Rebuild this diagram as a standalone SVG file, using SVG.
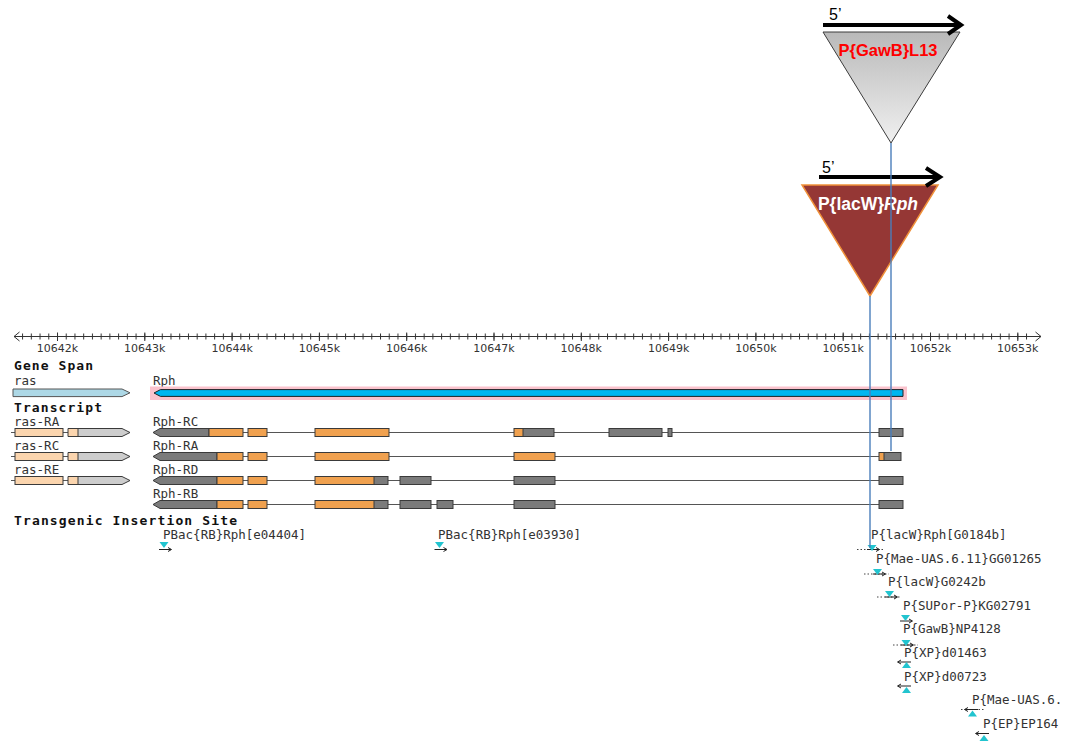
<svg xmlns="http://www.w3.org/2000/svg" width="1069" height="745" viewBox="0 0 1069 745">
<style>
.mono{font-family:"DejaVu Sans Mono","Liberation Mono",monospace;font-size:12.5px;fill:#333}
.head{font-family:"DejaVu Sans Mono","Liberation Mono",monospace;font-size:13px;font-weight:bold;fill:#111}
.ax{font-family:"DejaVu Sans","Liberation Sans",sans-serif;font-size:11px;fill:#333;text-anchor:middle}
.ex{stroke:#3a3a3a;stroke-width:1}
.o{fill:#f0a14f}
.g{fill:#7b7b7b}
.pe{fill:#fbd5ae}
.lg{fill:#cdcdcd}
.intr{stroke:#555;stroke-width:1.2}
.tk{stroke:#333;stroke-width:1}
.cy{fill:#22c4cf}
.ar{stroke:#222;stroke-width:1;fill:none}
.dot{stroke:#444;stroke-width:1;stroke-dasharray:1.5 2;fill:none}
.conn{stroke:#4a7ebb;stroke-width:1.4;fill:none}
.big{stroke:#000;stroke-width:4;fill:none;stroke-linecap:butt}
.five{font-family:"Liberation Sans",Arial,sans-serif;font-size:16px;fill:#000}
</style>
<defs>
<linearGradient id="gray" x1="0" y1="0" x2="0" y2="1">
<stop offset="0" stop-color="#b9b9b9"/>
<stop offset="1" stop-color="#f0f0f0"/>
</linearGradient>
<pattern id="minor" x="57" y="333.5" width="8.73" height="6" patternUnits="userSpaceOnUse">
<rect x="0" y="0" width="1" height="6" fill="#333"/>
</pattern>
<g id="mDown">
<polygon class="cy" points="-4.5,0 4.5,0 0,6"/>
</g>
<g id="aRight">
<path class="ar" d="M-6,7.5 H6 M3,5.5 L6.5,7.5 L3,9.5"/>
</g>
<g id="mUp">
<polygon class="cy" points="-4.5,7 4.5,7 0,1"/>
</g>
<g id="aLeft">
<path class="ar" d="M6,0 H-7 M-4,-2 L-7.5,0 L-4,2"/>
</g>
</defs>
<rect width="1069" height="745" fill="#fff"/>

<g id="gawb">
<polygon points="823,32 960,32 891,143" fill="url(#gray)" stroke="#3c3c3c" stroke-width="1"/>
<path class="big" d="M823,25 H960 M948,16 L961,25 L948,34"/>
<text class="five" x="829" y="20">5’</text>
<text x="888" y="56" text-anchor="middle" font-family="Liberation Sans,Arial,sans-serif" font-weight="bold" font-size="16.5" fill="#ff0000">P{GawB}L13</text>
</g>

<g id="lacw">
<polygon points="802,185 938,185 870,296" fill="#953735" stroke="#f0913a" stroke-width="1.5"/>
<path class="big" d="M819,177 H939 M926,168 L940,177 L926,186"/>
<text class="five" x="822" y="173">5’</text>
<text x="868" y="210" text-anchor="middle" font-family="Liberation Sans,Arial,sans-serif" font-weight="bold" font-size="17.5" fill="#fff">P{lacW}<tspan font-style="italic">Rph</tspan></text>
</g>

<g id="axis">
<line x1="14" y1="336.5" x2="1041" y2="336.5" class="tk"/>
<path class="tk" fill="none" d="M19.5,332 L14,336.5 L19.5,341 M1035.5,332 L1041,336.5 L1035.5,341"/>
<rect x="21" y="333.5" width="1013" height="6" fill="url(#minor)"/>
<path class="tk" d="M57.5,332.5V341M144.8,332.5V341M232.1,332.5V341M319.4,332.5V341M406.7,332.5V341M494,332.5V341M581.3,332.5V341M668.6,332.5V341M755.9,332.5V341M843.2,332.5V341M930.5,332.5V341M1017.8,332.5V341"/>
<text class="ax" x="57.5" y="352">10642k</text>
<text class="ax" x="144.8" y="352">10643k</text>
<text class="ax" x="232.1" y="352">10644k</text>
<text class="ax" x="319.4" y="352">10645k</text>
<text class="ax" x="406.7" y="352">10646k</text>
<text class="ax" x="494" y="352">10647k</text>
<text class="ax" x="581.3" y="352">10648k</text>
<text class="ax" x="668.6" y="352">10649k</text>
<text class="ax" x="755.9" y="352">10650k</text>
<text class="ax" x="843.2" y="352">10651k</text>
<text class="ax" x="930.5" y="352">10652k</text>
<text class="ax" x="1017.8" y="352">10653k</text>
</g>

<g id="genespan">
<text class="head" x="14" y="369.5" textLength="79">Gene Span</text>
<text class="mono" x="14" y="385">ras</text>
<polygon points="13,389 122,389 130,392.8 122,396.6 13,396.6" fill="#add8e6" stroke="#555" stroke-width="1"/>
<text class="mono" x="153" y="385">Rph</text>
<rect x="150" y="386.5" width="757" height="13.5" fill="#fac3cd"/>
<polygon points="154,393 160.5,389.6 903,389.6 903,396.4 160.5,396.4" fill="#00b6f0" stroke="#222" stroke-width="1"/>
</g>

<g id="transcripts">
<text class="head" x="14" y="412" textLength="88">Transcript</text>

<g id="ras-RA">
<text class="mono" x="14" y="425.5">ras-RA</text>
<line class="intr" x1="11" y1="432.5" x2="68" y2="432.5"/>
<rect class="ex pe" x="15" y="428.5" width="48" height="8"/>
<polygon class="lg" points="78,428.5 122,428.5 130,432.5 122,436.5 78,436.5"/>
<rect class="pe" x="68" y="428.5" width="10" height="8"/>
<polygon class="ex" fill="none" points="68,428.5 122,428.5 130,432.5 122,436.5 68,436.5"/>
<line class="ex" x1="78" y1="428.5" x2="78" y2="436.5"/>
</g>
<g id="ras-RC">
<text class="mono" x="14" y="449.5">ras-RC</text>
<line class="intr" x1="11" y1="456.5" x2="68" y2="456.5"/>
<rect class="ex pe" x="15" y="452.5" width="48" height="8"/>
<polygon class="lg" points="78,452.5 122,452.5 130,456.5 122,460.5 78,460.5"/>
<rect class="pe" x="68" y="452.5" width="10" height="8"/>
<polygon class="ex" fill="none" points="68,452.5 122,452.5 130,456.5 122,460.5 68,460.5"/>
<line class="ex" x1="78" y1="452.5" x2="78" y2="460.5"/>
</g>
<g id="ras-RE">
<text class="mono" x="14" y="473.5">ras-RE</text>
<line class="intr" x1="11" y1="480.5" x2="68" y2="480.5"/>
<rect class="ex pe" x="15" y="476.5" width="48" height="8"/>
<polygon class="lg" points="78,476.5 122,476.5 130,480.5 122,484.5 78,484.5"/>
<rect class="pe" x="68" y="476.5" width="10" height="8"/>
<polygon class="ex" fill="none" points="68,476.5 122,476.5 130,480.5 122,484.5 68,484.5"/>
<line class="ex" x1="78" y1="476.5" x2="78" y2="484.5"/>
</g>

<g id="Rph-RC">
<text class="mono" x="153" y="425.5">Rph-RC</text>
<line class="intr" x1="155" y1="432.5" x2="903" y2="432.5"/>
<polygon class="ex g" points="153,432.5 160,428.5 209,428.5 209,436.5 160,436.5"/>
<rect class="ex o" x="209" y="428.5" width="34" height="8"/>
<rect class="ex o" x="248" y="428.5" width="19" height="8"/>
<rect class="ex o" x="315" y="428.5" width="74" height="8"/>
<rect class="g" x="523" y="428.5" width="31" height="8"/>
<rect class="o" x="514" y="428.5" width="9" height="8"/>
<rect class="ex" fill="none" x="514" y="428.5" width="40" height="8"/>
<line class="ex" x1="523" y1="428.5" x2="523" y2="436.5"/>
<rect class="ex g" x="609" y="428.5" width="53" height="8"/>
<rect class="ex g" x="668" y="428.5" width="4" height="8"/>
<rect class="ex g" x="879" y="428.5" width="24" height="8"/>
</g>
<g id="Rph-RA">
<text class="mono" x="153" y="449.5">Rph-RA</text>
<line class="intr" x1="155" y1="456.5" x2="901" y2="456.5"/>
<polygon class="ex g" points="153,456.5 160,452.5 217,452.5 217,460.5 160,460.5"/>
<rect class="ex o" x="217" y="452.5" width="26" height="8"/>
<rect class="ex o" x="248" y="452.5" width="19" height="8"/>
<rect class="ex o" x="315" y="452.5" width="74" height="8"/>
<rect class="ex o" x="514" y="452.5" width="41" height="8"/>
<rect class="g" x="884" y="452.5" width="17" height="8"/>
<rect class="o" x="879" y="452.5" width="5" height="8"/>
<rect class="ex" fill="none" x="879" y="452.5" width="22" height="8"/>
<line class="ex" x1="884" y1="452.5" x2="884" y2="460.5"/>
</g>
<g id="Rph-RD">
<text class="mono" x="153" y="473.5">Rph-RD</text>
<line class="intr" x1="155" y1="480.5" x2="903" y2="480.5"/>
<polygon class="ex g" points="153,480.5 160,476.5 217,476.5 217,484.5 160,484.5"/>
<rect class="ex o" x="217" y="476.5" width="26" height="8"/>
<rect class="ex o" x="248" y="476.5" width="19" height="8"/>
<rect class="g" x="374" y="476.5" width="14" height="8"/>
<rect class="o" x="315" y="476.5" width="59" height="8"/>
<rect class="ex" fill="none" x="315" y="476.5" width="73" height="8"/>
<line class="ex" x1="374" y1="476.5" x2="374" y2="484.5"/>
<rect class="ex g" x="400" y="476.5" width="31" height="8"/>
<rect class="ex g" x="514" y="476.5" width="41" height="8"/>
<rect class="ex g" x="879" y="476.5" width="24" height="8"/>
</g>
<g id="Rph-RB">
<text class="mono" x="153" y="497.5">Rph-RB</text>
<line class="intr" x1="155" y1="504.5" x2="903" y2="504.5"/>
<polygon class="ex g" points="153,504.5 160,500.5 217,500.5 217,508.5 160,508.5"/>
<rect class="ex o" x="217" y="500.5" width="26" height="8"/>
<rect class="ex o" x="248" y="500.5" width="19" height="8"/>
<rect class="g" x="374" y="500.5" width="14" height="8"/>
<rect class="o" x="315" y="500.5" width="59" height="8"/>
<rect class="ex" fill="none" x="315" y="500.5" width="73" height="8"/>
<line class="ex" x1="374" y1="500.5" x2="374" y2="508.5"/>
<rect class="ex g" x="400" y="500.5" width="31" height="8"/>
<rect class="ex g" x="437" y="500.5" width="16" height="8"/>
<rect class="ex g" x="514" y="500.5" width="41" height="8"/>
<rect class="ex g" x="879" y="500.5" width="24" height="8"/>
</g>
</g>

<g id="insertions">
<text class="head" x="14" y="525" textLength="223">Transgenic Insertion Site</text>
<g id="e04404">
<text class="mono" x="163" y="539">PBac{RB}Rph[e04404]</text>
<use href="#mDown" x="164" y="542"/><use href="#aRight" x="165" y="542"/>
</g>
<g id="e03930">
<text class="mono" x="438" y="539">PBac{RB}Rph[e03930]</text>
<use href="#mDown" x="439.5" y="542"/><use href="#aRight" x="440.5" y="542"/>
</g>
<g id="G0184b">
<text class="mono" x="871" y="539">P{lacW}Rph[G0184b]</text>
<line class="dot" x1="857" y1="549.5" x2="884" y2="549.5"/>
<use href="#aRight" x="873" y="542"/><use href="#mDown" x="872" y="545"/>
</g>
<g id="GG01265">
<text class="mono" x="876" y="562.5">P{Mae-UAS.6.11}GG01265</text>
<line class="dot" x1="864" y1="574" x2="889" y2="574"/>
<use href="#aRight" x="879" y="566.5"/><use href="#mDown" x="877.5" y="569"/>
</g>
<g id="G0242b">
<text class="mono" x="888" y="586">P{lacW}G0242b</text>
<line class="dot" x1="877" y1="597" x2="901" y2="597"/>
<use href="#aRight" x="891" y="589.5"/><use href="#mDown" x="889.5" y="591"/>
</g>
<g id="KG02791">
<text class="mono" x="903" y="610">P{SUPor-P}KG02791</text>
<use href="#aRight" x="906" y="613.5"/><use href="#mDown" x="905.5" y="615"/>
</g>
<g id="NP4128">
<text class="mono" x="903" y="633">P{GawB}NP4128</text>
<line class="dot" x1="893" y1="645" x2="918" y2="645"/>
<use href="#aRight" x="907" y="637.5"/><use href="#mDown" x="906" y="640"/>
</g>
<g id="d01463">
<text class="mono" x="904" y="657">P{XP}d01463</text>
<use href="#aLeft" x="905" y="662"/><use href="#mUp" x="906.5" y="661"/>
</g>
<g id="d00723">
<text class="mono" x="904" y="681">P{XP}d00723</text>
<use href="#aLeft" x="905" y="686"/><use href="#mUp" x="906.5" y="686"/>
</g>
<g id="MaeUAS">
<text class="mono" x="972" y="704">P{Mae-UAS.6.</text>
<line class="dot" x1="961" y1="709.5" x2="985" y2="709.5"/>
<use href="#aLeft" x="972" y="709.5"/><use href="#mUp" x="972.5" y="709.5"/>
</g>
<g id="EP164">
<text class="mono" x="983" y="728">P{EP}EP164</text>
<use href="#aLeft" x="983" y="733.5"/><use href="#mUp" x="984" y="734"/>
</g>
</g>

<g id="connectors">
<line class="conn" x1="870" y1="296" x2="870" y2="548"/>
<line class="conn" x1="891" y1="143" x2="891" y2="451"/>
</g>
</svg>
